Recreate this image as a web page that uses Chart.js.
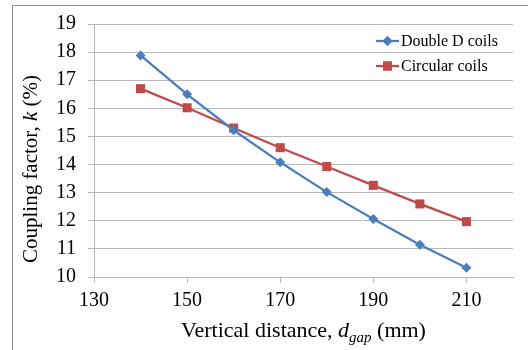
<!DOCTYPE html>
<html>
<head>
<meta charset="utf-8">
<script src="https://cdn.jsdelivr.net/npm/chart.js@4/dist/chart.umd.min.js"></script>
<style>
  html, body { margin: 0; padding: 0; background: #fff; overflow: hidden; }
  canvas { display: block; }
</style>
</head>
<body>
<canvas id="chart" width="528" height="350"></canvas>
<script>
// vertical distance d_gap (mm)
const gaps = [140, 150, 160, 170, 180, 190, 200, 210];
// coupling factor k (%)
const doubleD = [17.88, 16.5, 15.22, 14.08, 13.02, 12.06, 11.15, 10.33];
const circular = [16.7, 16.02, 15.3, 14.6, 13.93, 13.26, 12.6, 11.97];
const xTicks = [130, 150, 170, 190, 210];
const seriesNames = ["Double D coils", "Circular coils"];

const blue = "#4a7ebb";
const red = "#be4b48";
const gridColor = "#b8b8b8";
const serif = "'Liberation Serif', 'Times New Roman', serif";

function pts(ys) {
  return gaps.map((x, i) => ({ x, y: ys[i] }));
}

// outer frame, axis titles with italic parts and a legend inside the plot
const decorations = {
  id: "decorations",
  beforeDraw(chart) {
    const ctx = chart.ctx;
    ctx.save();
    ctx.fillStyle = "#fff";
    ctx.fillRect(0, 0, chart.width, chart.height);
    ctx.strokeStyle = "#8c8c8c";
    ctx.lineWidth = 1;
    ctx.beginPath();
    ctx.moveTo(12.5, chart.height);
    ctx.lineTo(12.5, 5.5);
    ctx.lineTo(chart.width, 5.5);
    ctx.stroke();
    ctx.restore();
  },
  afterDraw(chart) {
    const ctx = chart.ctx;
    const area = chart.chartArea;
    ctx.save();
    ctx.fillStyle = "#000";
    ctx.textBaseline = "alphabetic";

    // x title
    const parts = [
      { t: "Vertical distance, ", f: "22px " + serif, dy: 0 },
      { t: "d", f: "italic 22px " + serif, dy: 0 },
      { t: "gap", f: "italic 15px " + serif, dy: 5 },
      { t: " (mm)", f: "22px " + serif, dy: 0 },
    ];
    let total = 0;
    parts.forEach((p) => { ctx.font = p.f; p.w = ctx.measureText(p.t).width; total += p.w; });
    let x = (area.left + area.right) / 2 - total / 2;
    const base = 337;
    parts.forEach((p) => { ctx.font = p.f; ctx.fillText(p.t, x, base + p.dy); x += p.w; });

    // y title
    const yparts = [
      { t: "Coupling factor, ", f: "21px " + serif },
      { t: "k", f: "italic 21px " + serif },
      { t: " (%)", f: "21px " + serif },
    ];
    total = 0;
    yparts.forEach((p) => { ctx.font = p.f; p.w = ctx.measureText(p.t).width; total += p.w; });
    ctx.translate(37, 169);
    ctx.rotate(-Math.PI / 2);
    x = -total / 2;
    yparts.forEach((p) => { ctx.font = p.f; ctx.fillText(p.t, x, 0); x += p.w; });
    ctx.restore();

    // legend
    ctx.save();
    const rows = [
      { name: seriesNames[0], color: blue, style: "rectRot", r: 5, y: 41 },
      { name: seriesNames[1], color: red, style: "rect", r: 6.4, y: 66 },
    ];
    ctx.font = "16px " + serif;
    ctx.textBaseline = "middle";
    rows.forEach((row) => {
      ctx.strokeStyle = row.color;
      ctx.lineWidth = 2.25;
      ctx.beginPath();
      ctx.moveTo(376, row.y);
      ctx.lineTo(399, row.y);
      ctx.stroke();
      ctx.fillStyle = row.color;
      Chart.helpers.drawPoint(ctx, { pointStyle: row.style, radius: row.r, borderWidth: 0 }, 387.5, row.y);
      ctx.fill();
      ctx.fillStyle = "#000";
      ctx.fillText(row.name, 401, row.y + 1);
    });
    ctx.restore();
  },
};

new Chart(document.getElementById("chart"), {
  type: "scatter",
  data: {
    datasets: [
      {
        label: seriesNames[0],
        data: pts(doubleD),
        showLine: true,
        borderColor: blue,
        backgroundColor: blue,
        borderWidth: 2.25,
        pointStyle: "rectRot",
        pointRadius: 5,
        pointBorderWidth: 0,
      },
      {
        label: seriesNames[1],
        data: pts(circular),
        showLine: true,
        borderColor: red,
        backgroundColor: red,
        borderWidth: 2.25,
        pointStyle: "rect",
        pointRadius: 6.4,
        pointBorderWidth: 0,
      },
    ],
  },
  options: {
    responsive: false,
    animation: false,
    devicePixelRatio: 1,
    layout: { padding: { left: 0, top: 19, right: 15, bottom: 0 } },
    plugins: { legend: { display: false }, tooltip: { enabled: false } },
    scales: {
      x: {
        type: "linear",
        min: 130,
        max: 220,
        afterBuildTicks: (scale) => { scale.ticks = xTicks.map((v) => ({ value: v })); },
        afterFit: (scale) => { scale.height = 73; },
        grid: { drawOnChartArea: false, drawTicks: true, tickLength: 6, color: gridColor },
        border: { display: true, color: gridColor, width: 1 },
        ticks: { color: "#000", padding: 6, maxRotation: 0, font: { family: serif, size: 20 } },
      },
      y: {
        min: 10,
        max: 19,
        afterFit: (scale) => { scale.width = 94; },
        grid: { color: gridColor, tickLength: 6, drawTicks: true },
        border: { display: true, color: gridColor, width: 1 },
        ticks: { stepSize: 1, color: "#000", padding: 12, font: { family: serif, size: 20 } },
      },
    },
  },
  plugins: [decorations],
});
</script>
</body>
</html>
